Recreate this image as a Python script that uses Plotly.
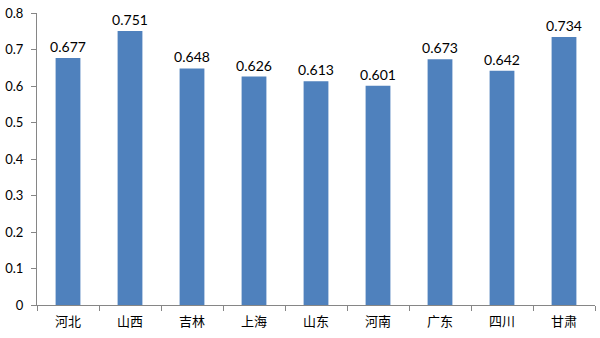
import plotly.graph_objects as go

categories = ["河北", "山西", "吉林", "上海", "山东", "河南", "广东", "四川", "甘肃"]
values = [0.677, 0.751, 0.648, 0.626, 0.613, 0.601, 0.673, 0.642, 0.734]
labels = ["0.677", "0.751", "0.648", "0.626", "0.613", "0.601", "0.673", "0.642", "0.734"]
y_ticks = [0, 0.1, 0.2, 0.3, 0.4, 0.5, 0.6, 0.7, 0.8]
y_tick_text = ["0", "0.1", "0.2", "0.3", "0.4", "0.5", "0.6", "0.7", "0.8"]

fig = go.Figure(go.Bar(
    x=categories, y=values,
    text=labels, textposition="outside", cliponaxis=False, constraintext="none",
    textfont=dict(family="Lato, Open Sans, sans-serif", size=14, color="#000000"),
    marker=dict(color="#4F81BD", line=dict(width=0)),
))

fig.update_layout(
    width=600, height=338,
    margin=dict(l=34, r=5, t=11, b=33),
    paper_bgcolor="white", plot_bgcolor="white",
    bargap=0.6, showlegend=False,
    font=dict(family="Lato, Open Sans, sans-serif", size=13, color="#000000"),
)
fig.update_xaxes(
    showline=True, linecolor="#868686", linewidth=1,
    ticks="outside", ticklen=5, tickcolor="#868686",
    tickson="boundaries", ticklabelstandoff=4,
    tickfont=dict(family="Noto Sans CJK SC", size=13, color="#000000"),
    showgrid=False,
)
fig.update_yaxes(
    range=[0, 0.8], tickvals=y_ticks, ticktext=y_tick_text,
    showline=True, linecolor="#868686", linewidth=1,
    ticks="outside", ticklen=5, tickcolor="#868686",
    ticklabelstandoff=5,
    showgrid=False, zeroline=False,
    tickfont=dict(family="Lato, Open Sans, sans-serif", size=13, color="#000000"),
)

fig.write_html("out.html")
